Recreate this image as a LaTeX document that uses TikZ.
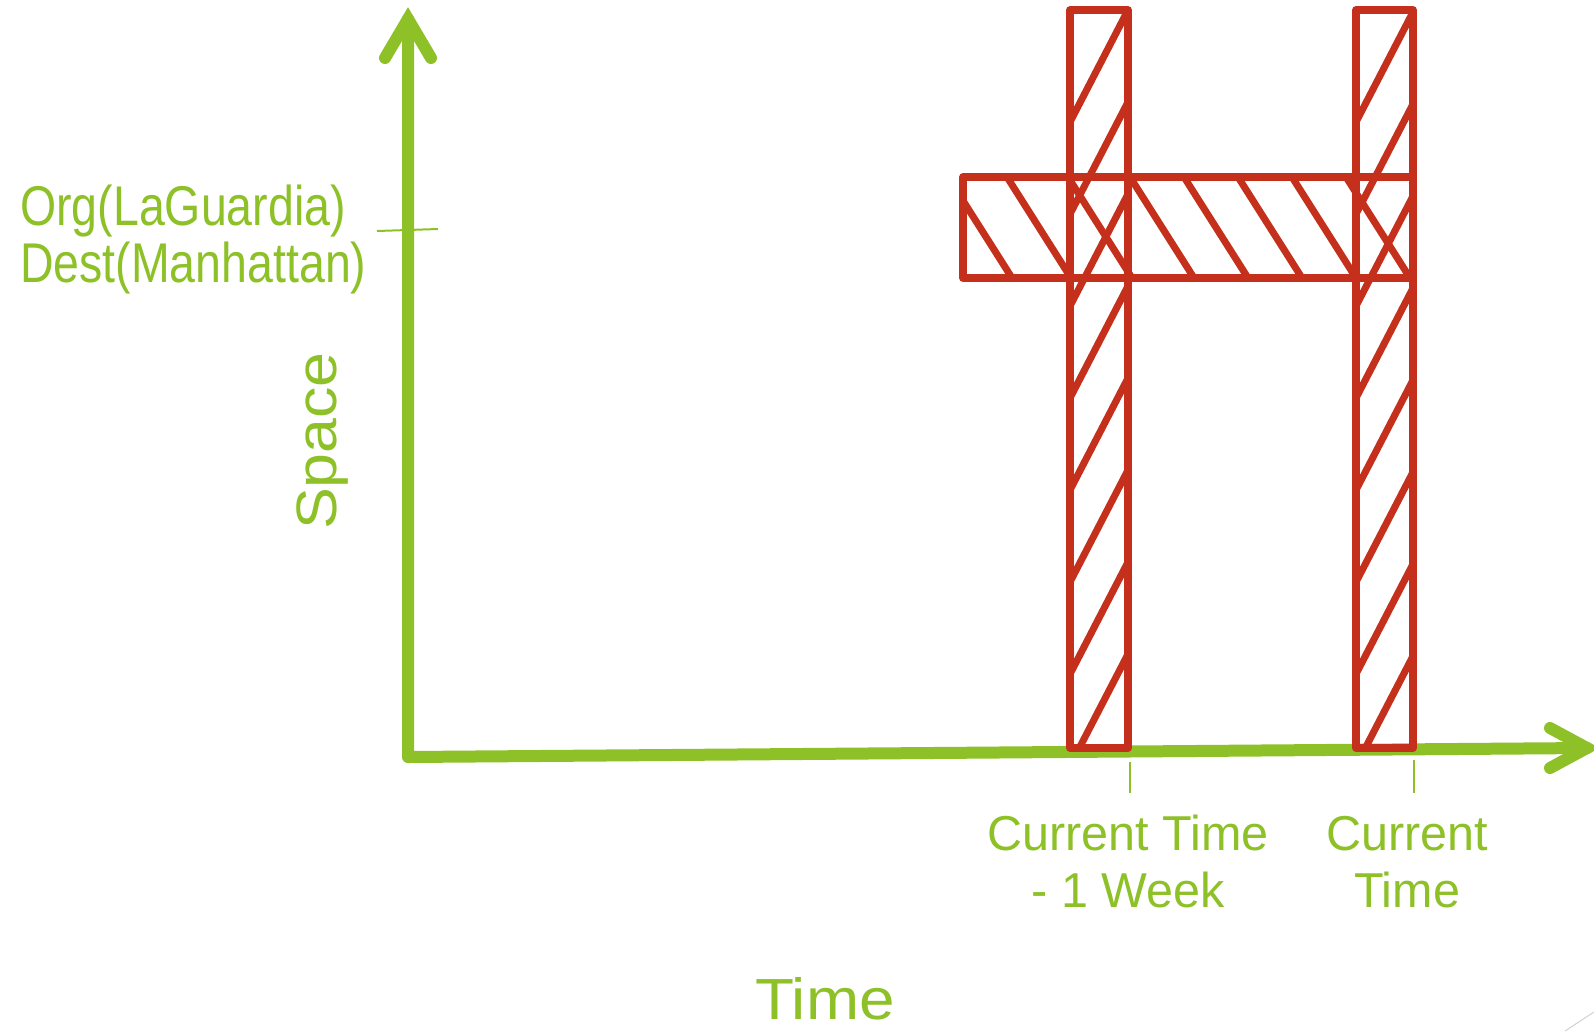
\documentclass[tikz,border=0pt]{standalone}
\usepackage{graphicx}
\usepackage{fontspec}
\setmainfont{Liberation Sans}
\usepackage{tikz}
\usetikzlibrary{positioning}
\definecolor{leaf}{HTML}{8DC127}
\definecolor{brick}{HTML}{C4301C}
\newcommand{\squeeze}[2]{\scalebox{#1}[1]{#2}}
\tikzset{
  axisline/.style={leaf,line width=12pt,line cap=round,line join=round},
  axishead/.style={leaf,line width=12pt,line cap=round,line join=miter},
  tickmark/.style={leaf,line width=2pt},
  frame/.style={brick,line width=7.5pt,line join=round,line cap=round},
  hatchline/.style={brick,line width=7pt,line cap=round},
  lbl/.style={leaf,inner sep=0pt},
}
\begin{document}
\begin{tikzpicture}[x=1pt,y=-1pt]
  \useasboundingbox (0,0) rectangle (1594,1031);

  % Axes
  \coordinate (origin) at (408,757);
  \coordinate (ytip) at (408,19);
  \coordinate (xtip) at (1587,748);
  \draw[axisline] (ytip) -- (origin) -- (xtip);
  \draw[axishead] (385,58) -- (ytip) -- (431,58);
  \draw[axishead] (1550,728) -- (xtip) -- (1550,768);

  % Ticks
  \draw[tickmark] (377,231) -- (438,229);
  \draw[tickmark] (1130,762) -- (1130,793);
  \draw[tickmark] (1414,760) -- (1414,793);

  % Hatching of the two time slices
  \begin{scope}
    \clip (1070,10) rectangle (1128,748);
    \foreach \y in {122,214,...,766}
      \draw[hatchline] (1070,\y) -- ++(58,-112);
  \end{scope}
  \begin{scope}
    \clip (1356,10) rectangle (1413,748);
    \foreach \y in {122,214,...,766}
      \draw[hatchline] (1356,\y) -- ++(57,-110);
  \end{scope}
  % Hatching of the OD band
  \begin{scope}
    \clip (963,177) rectangle (1413,278);
    \foreach \x in {948,1007,1068,1130,1184,1238,1292,1346}
      \draw[hatchline] (\x,177) -- ++(64,101);
  \end{scope}

  % Outlines
  \draw[frame] (1070,10) rectangle (1128,748);
  \draw[frame] (1356,10) rectangle (1413,748);
  \draw[frame] (963,177) rectangle (1413,278);

  % Labels (base anchor = baseline of the last line)
  \node[lbl,anchor=base west,align=left,font=\fontsize{56}{57}\selectfont]
    (odlabel) at (20,282)
    {\squeeze{0.83}{Org(LaGuardia)}\\\squeeze{0.83}{Dest(Manhattan)}};
  \node[lbl,rotate=90,anchor=base,font=\fontsize{57}{60}\selectfont]
    (spacelabel) at (336,441) {\squeeze{1.1}{Space}};
  \node[lbl,anchor=base,align=center,font=\fontsize{49}{57}\selectfont]
    (weeklabel) at (1128,907)
    {\squeeze{0.99}{Current Time}\\\squeeze{0.99}{- 1 Week}};
  \node[lbl,anchor=base,align=center,font=\fontsize{49}{57}\selectfont]
    (nowlabel) at (1407,907)
    {\squeeze{0.99}{Current}\\\squeeze{0.99}{Time}};
  \node[lbl,anchor=base,text depth=0pt,font=\fontsize{58}{60}\selectfont]
    (timelabel) at (825,1019) {\squeeze{1.1}{Time}};

  % slide corner
  \draw[gray!35,line width=1pt] (1565,1031) -- (1594,1012);
\end{tikzpicture}
\end{document}
